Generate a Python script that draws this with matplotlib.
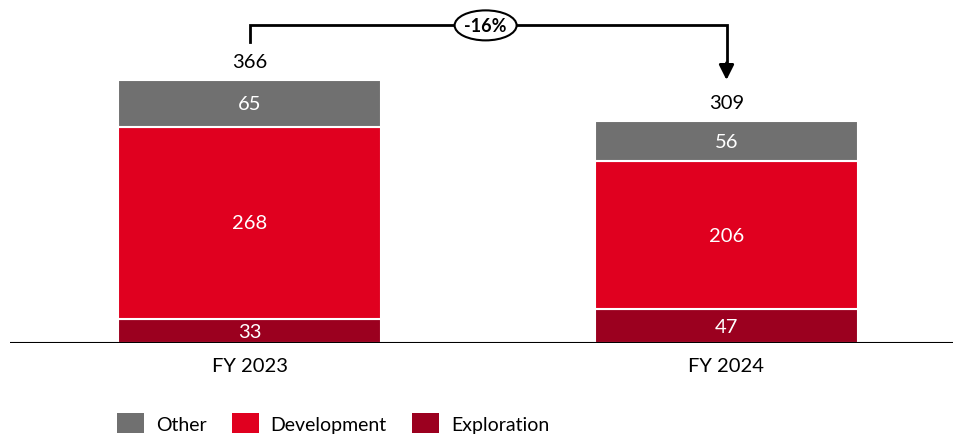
import matplotlib
matplotlib.use("Agg")
import matplotlib.pyplot as plt
from matplotlib.patches import Ellipse

plt.rcParams['font.family'] = ['Lato', 'DejaVu Sans']

categories = ["FY 2023", "FY 2024"]
exploration = [33, 47]
development = [268, 206]
other = [65, 56]
change_label = "-16%"
series_names = ["Other", "Development", "Exploration"]
colors = {"Other": "#707070", "Development": "#E0001F", "Exploration": "#9B001F"}

W, H = 954, 435
fig = plt.figure(figsize=(W / 100, H / 100), dpi=100)
ax = fig.add_axes([10 / W, 91 / H, 944 / W, 344 / H])
ax.set_xlim(-239.5 / 477, (W - 249.5) / 477)
ax.set_ylim(0, 344 / 0.7186)
ax.axis("off")
ax.axhline(0, color="black", lw=1.5, zorder=5)

x = list(range(len(categories)))
width = 263 / 477
totals = [e + d + o for e, d, o in zip(exploration, development, other)]
bottoms = [0] * len(x)
for name, vals in [("Exploration", exploration), ("Development", development), ("Other", other)]:
    ax.bar(x, vals, width, bottom=bottoms, color=colors[name],
           edgecolor="white", linewidth=1.5, label=name, zorder=3)
    for xi, v, b in zip(x, vals, bottoms):
        ax.text(xi, b + v / 2, f"{v}", ha="center", va="center",
                color="white", fontsize=14.5, zorder=6)
    bottoms = [b + v for b, v in zip(bottoms, vals)]

for xi, t in zip(x, totals):
    ax.text(xi, t + 26, f"{t}", ha="center", va="center", fontsize=14.5, color="black")

for xi, c in zip(x, categories):
    ax.text(xi, -32, c, ha="center", va="center", fontsize=14.5, color="black", clip_on=False)

# bracket with arrow
y_top = 442
ax.plot([x[0], x[0], x[1], x[1]], [419, y_top, y_top, 385], color="black", lw=2,
        solid_joinstyle="miter", zorder=4, clip_on=False)
ax.annotate("", xy=(x[1], totals[1] + 57), xytext=(x[1], 390),
            arrowprops=dict(arrowstyle="-|>,head_width=0.45,head_length=0.9",
                            color="black", lw=2, shrinkA=0, shrinkB=0))
xm = (x[0] + x[1]) / 2 - 0.005
ell = Ellipse((xm, y_top), 62 / 477, 30 / 0.7186, facecolor="white",
              edgecolor="black", lw=1.5, zorder=7, clip_on=False)
ax.add_patch(ell)
ax.text(xm, y_top, change_label, ha="center", va="center", fontsize=13,
        fontweight="bold", zorder=8)

handles, labels = ax.get_legend_handles_labels()
order = [labels.index(n) for n in series_names]
leg = fig.legend([handles[i] for i in order], [labels[i] for i in order],
                 loc="center left", bbox_to_anchor=(117 / W, 11 / H), ncol=3,
                 frameon=False, fontsize=14, handlelength=1.4, handleheight=1.2,
                 handletextpad=0.6, columnspacing=1.3, borderpad=0, borderaxespad=0)
for p in leg.get_patches():
    p.set_edgecolor("none")

fig.savefig("out.png", dpi=100)
